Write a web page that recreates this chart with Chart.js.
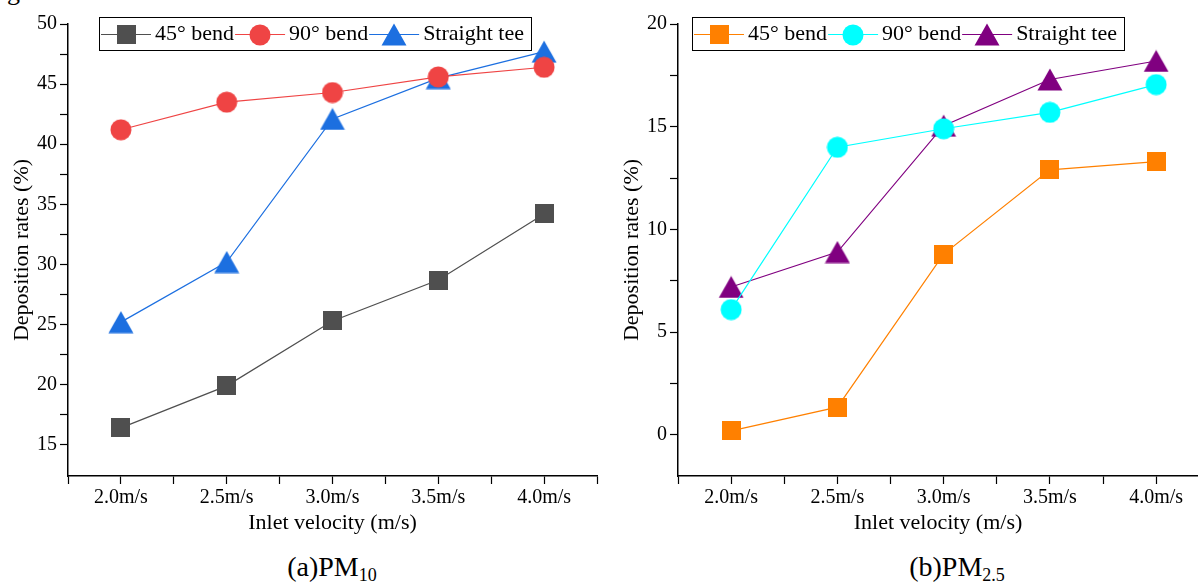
<!DOCTYPE html>
<html>
<head>
<meta charset="utf-8">
<script src="https://cdn.jsdelivr.net/npm/chart.js@4.4.0/dist/chart.umd.min.js"></script>
<style>
  html, body { margin: 0; padding: 0; background: #fff; overflow: hidden; }
  body { width: 1198px; height: 585px; position: relative; font-family: "Liberation Serif", "Times New Roman", serif; }
  .panel { position: absolute; top: 0; }
  .caption { position: absolute; top: 551px; font-size: 28px; color: #000; text-align: center; white-space: nowrap; }
  .caption sub { font-size: 18px; vertical-align: -5px; }
  .stray { position: absolute; left: 7px; top: -23px; font-size: 26px; color: #000; }
</style>
</head>
<body>
<div class="stray">g</div>
<div class="panel" style="left:0px"><canvas id="pm10Chart" width="600" height="540"></canvas></div>
<div class="panel" style="left:600px"><canvas id="pm25Chart" width="598" height="540"></canvas></div>
<div class="caption" style="left:232px; width:200px">(a)PM<sub>10</sub></div>
<div class="caption" style="left:857px; width:200px">(b)PM<sub>2.5</sub></div>
<script>
const categories = ['2.0m/s', '2.5m/s', '3.0m/s', '3.5m/s', '4.0m/s'];
const seriesNames = ['45° bend', '90° bend', 'Straight tee'];

// PM10 deposition rates (%)
const pm10Bend45 = [16.4, 19.9, 25.3, 28.7, 34.2];
const pm10Bend90 = [41.2, 43.5, 44.3, 45.6, 46.4];
const pm10Tee = [25.2, 30.2, 42.1, 45.5, 47.7];

// PM2.5 deposition rates (%)
const pm25Bend45 = [0.2, 1.35, 8.8, 12.9, 13.3];
const pm25Bend90 = [6.1, 14.0, 14.9, 15.7, 17.05];
const pm25Tee = [7.2, 8.9, 15.05, 17.3, 18.2];

// tick values (major ones get labels)
const pm10YTicks = [15, 17.5, 20, 22.5, 25, 27.5, 30, 32.5, 35, 37.5, 40, 42.5, 45, 47.5, 50];
const pm25YTicks = [0, 2.5, 5, 7.5, 10, 12.5, 15, 17.5, 20];

const FONT = '"Liberation Serif", "Times New Roman", serif';

// marker images, drawn centred on the point
function makeMarker(shape, color) {
  const c = document.createElement('canvas');
  const g = c.getContext('2d');
  if (shape === 'square') {
    c.width = 19; c.height = 19;
    g.fillStyle = color;
    g.fillRect(0, 0, 19, 19);
  } else if (shape === 'circle') {
    c.width = 22; c.height = 22;
    g.fillStyle = color;
    g.beginPath();
    g.arc(11, 11, 10.5, 0, Math.PI * 2);
    g.fill();
  } else {
    c.width = 26; c.height = 23;
    g.fillStyle = color;
    g.beginPath();
    g.moveTo(13, 0.5);
    g.lineTo(25.5, 22.5);
    g.lineTo(0.5, 22.5);
    g.closePath();
    g.fill();
  }
  return c;
}

function makeDataset(label, values, color, shape) {
  return {
    label: label,
    data: values.map((v, i) => ({ x: i, y: v })),
    borderColor: color,
    backgroundColor: color,
    borderWidth: 1.2,
    pointStyle: makeMarker(shape, color),
    pointRadius: 10,
    tension: 0,
  };
}

// legend box drawn inside the plot: line + marker + text for each series
const boxLegend = {
  id: 'boxLegend',
  afterDraw(chart, args, opts) {
    const ctx = chart.ctx;
    ctx.save();
    ctx.fillStyle = '#fff';
    ctx.fillRect(opts.x, opts.y, opts.w, opts.h);
    ctx.strokeStyle = '#000';
    ctx.lineWidth = 1;
    ctx.strokeRect(opts.x + 0.5, opts.y + 0.5, opts.w, opts.h);
    ctx.font = '22px ' + FONT;
    ctx.textBaseline = 'middle';
    const cy = opts.y + opts.h / 2 + 1;
    let x = opts.x + 2;
    chart.data.datasets.forEach(ds => {
      ctx.strokeStyle = ds.borderColor;
      ctx.lineWidth = 1.2;
      ctx.beginPath();
      ctx.moveTo(x, cy);
      ctx.lineTo(x + 50, cy);
      ctx.stroke();
      const img = ds.pointStyle;
      ctx.drawImage(img, Math.round(x + 25 - img.width / 2), Math.round(cy - img.height / 2));
      ctx.fillStyle = '#000';
      ctx.fillText(ds.label, x + 54, cy);
      x += 54 + ctx.measureText(ds.label).width + 1;
    });
    ctx.restore();
  }
};

function buildOptions(yTicks, yMin, yMax, xMax, rightPad, yWidth, yTitlePad, legendBox) {
  return {
    responsive: false,
    animation: false,
    devicePixelRatio: 1,
    layout: { autoPadding: false, padding: { top: 24, right: rightPad, left: 0, bottom: 0 } },
    plugins: {
      legend: { display: false },
      tooltip: { enabled: false },
      boxLegend: legendBox,
    },
    scales: {
      x: {
        type: 'linear',
        min: -0.5,
        max: xMax,
        afterFit: s => {
          s.height = 64;
          s.paddingLeft = 0;
          s.paddingRight = 0;
        },
        afterBuildTicks: s => {
          const t = [];
          for (let v = -0.5; v <= xMax + 1e-9; v += 0.5) t.push({ value: v });
          s.ticks = t;
        },
        ticks: {
          color: '#000',
          font: { family: FONT, size: 20 },
          padding: 2,
          maxRotation: 0,
          autoSkip: false,
          callback: v => (Number.isInteger(v) ? categories[v] : ''),
        },
        grid: { drawOnChartArea: false, drawTicks: true, tickLength: 8, tickColor: '#000', tickWidth: 1.2 },
        border: { display: true, color: '#000', width: 1.5 },
        title: {
          display: true,
          text: 'Inlet velocity (m/s)',
          color: '#000',
          font: { family: FONT, size: 22 },
          padding: { top: 0, bottom: 4 },
        },
      },
      y: {
        min: yMin,
        max: yMax,
        afterFit: s => {
          s.width = yWidth;
          s.paddingTop = 0;
          s.paddingBottom = 0;
        },
        afterBuildTicks: s => { s.ticks = yTicks.map(v => ({ value: v })); },
        ticks: {
          color: '#000',
          font: { family: FONT, size: 20 },
          padding: 3,
          callback: v => (v % 5 === 0 ? String(v) : ''),
        },
        grid: { drawOnChartArea: false, drawTicks: true, tickLength: 8, tickColor: '#000', tickWidth: 1.2 },
        border: { display: true, color: '#000', width: 1.5 },
        title: {
          display: true,
          text: 'Deposition rates (%)',
          color: '#000',
          font: { family: FONT, size: 22 },
          padding: { top: yTitlePad, bottom: 0 },
        },
      },
    },
  };
}

new Chart(document.getElementById('pm10Chart').getContext('2d'), {
  type: 'line',
  data: {
    datasets: [
      makeDataset(seriesNames[0], pm10Bend45, '#4f4f4f', 'square'),
      makeDataset(seriesNames[1], pm10Bend90, '#ef4444', 'circle'),
      makeDataset(seriesNames[2], pm10Tee, '#1c6fe0', 'triangle'),
    ],
  },
  options: buildOptions(pm10YTicks, 12.4, 50, 4.5, 3, 68, 9, { x: 99, y: 17, w: 432, h: 33 }),
  plugins: [boxLegend],
});

new Chart(document.getElementById('pm25Chart').getContext('2d'), {
  type: 'line',
  data: {
    datasets: [
      makeDataset(seriesNames[0], pm25Bend45, '#ff8000', 'square'),
      makeDataset(seriesNames[1], pm25Bend90, '#00ffff', 'circle'),
      makeDataset(seriesNames[2], pm25Tee, '#800080', 'triangle'),
    ],
  },
  options: buildOptions(pm25YTicks, -2, 20, 4.394, 0, 78, 19, { x: 92, y: 17, w: 432, h: 33 }),
  plugins: [boxLegend],
});
</script>
</body>
</html>
